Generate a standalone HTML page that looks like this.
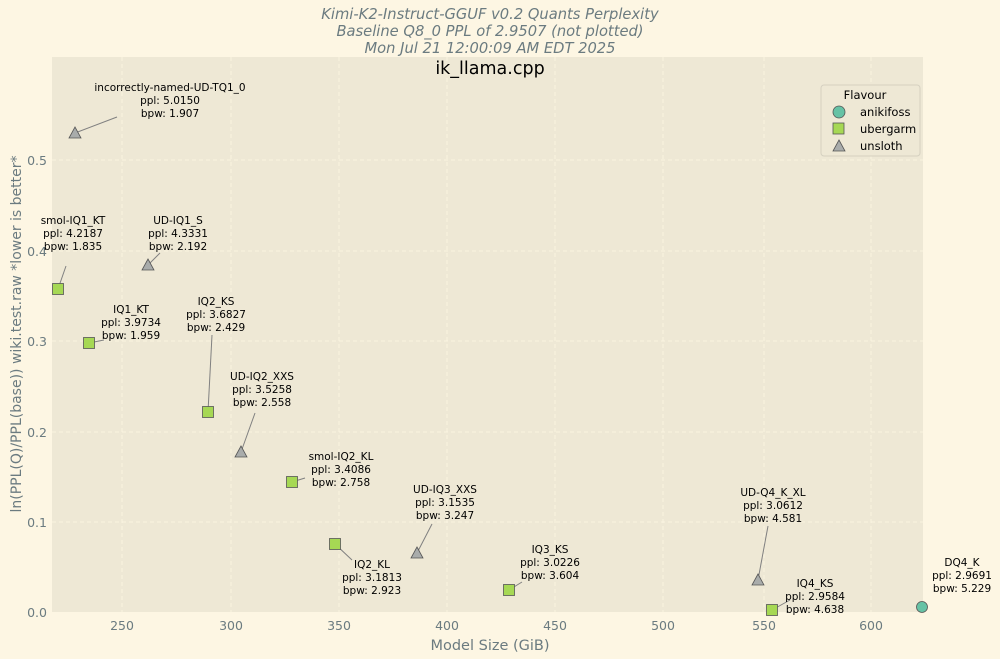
<!DOCTYPE html>
<html><head><meta charset="utf-8"><style>
body{margin:0;background:#fdf6e3;}
svg{display:block;font-family:"DejaVu Sans","Liberation Sans",sans-serif;}
.a{font-size:10.5px;fill:#000;text-anchor:middle}
.t{fill:#6b7b80;}
</style></head><body>
<svg width="1000" height="659" viewBox="0 0 1000 659">
<rect width="1000" height="659" fill="#fdf6e3"/>
<rect x="52" y="57" width="871" height="555" fill="#eee8d5"/>
<g stroke="#fdf6e3" stroke-dasharray="4,3" stroke-width="0.8">
<line x1="122" y1="57" x2="122" y2="612"/><line x1="231" y1="57" x2="231" y2="612"/><line x1="339" y1="57" x2="339" y2="612"/><line x1="447" y1="57" x2="447" y2="612"/><line x1="555" y1="57" x2="555" y2="612"/><line x1="663" y1="57" x2="663" y2="612"/><line x1="764" y1="57" x2="764" y2="612"/><line x1="871" y1="57" x2="871" y2="612"/>
<line x1="52" y1="522" x2="923" y2="522"/><line x1="52" y1="432" x2="923" y2="432"/><line x1="52" y1="341" x2="923" y2="341"/><line x1="52" y1="251" x2="923" y2="251"/><line x1="52" y1="160" x2="923" y2="160"/>
</g>
<g class="t" text-anchor="middle" style="font-size:12.5px">
<text x="122" y="630">250</text><text x="231" y="630">300</text><text x="339" y="630">350</text><text x="447" y="630">400</text><text x="555" y="630">450</text><text x="663" y="630">500</text><text x="764" y="630">550</text><text x="871" y="630">600</text>
</g>
<g class="t" text-anchor="end" style="font-size:12.5px">
<text x="47" y="617">0.0</text><text x="47" y="527">0.1</text><text x="47" y="437">0.2</text><text x="47" y="346">0.3</text><text x="47" y="256">0.4</text><text x="47" y="165">0.5</text>
</g>
<text x="490" y="650" class="t" style="font-size:14.5px" text-anchor="middle">Model Size (GiB)</text>
<text transform="translate(21,334) rotate(-90)" class="t" style="font-size:14px" text-anchor="middle">ln(PPL(Q)/PPL(base)) wiki.test.raw *lower is better*</text>
<g fill="#6b7b80" style="font-size:14.7px" font-style="italic" text-anchor="middle">
<text x="490" y="19">Kimi-K2-Instruct-GGUF v0.2 Quants Perplexity</text>
<text x="490" y="36">Baseline Q8_0 PPL of 2.9507 (not plotted)</text>
<text x="490" y="53">Mon Jul 21 12:00:09 AM EDT 2025</text>
</g>
<text x="490" y="74" style="font-size:17.5px" text-anchor="middle" fill="#000">ik_llama.cpp</text>
<g stroke="#808080" stroke-width="1">
<line x1="75" y1="133" x2="117" y2="117"/><line x1="148" y1="265" x2="160" y2="253"/><line x1="58" y1="289" x2="66" y2="266"/><line x1="89" y1="343" x2="104" y2="340"/><line x1="208" y1="412" x2="212" y2="335"/><line x1="241" y1="452" x2="255" y2="413"/><line x1="292" y1="482" x2="305" y2="478"/><line x1="335" y1="544" x2="352" y2="560"/><line x1="417" y1="553" x2="432" y2="524"/><line x1="509" y1="590" x2="522" y2="582"/><line x1="758" y1="580" x2="768" y2="526"/><line x1="772" y1="610" x2="790" y2="600"/>
</g>
<g class="a">
<text x="170" y="91">incorrectly-named-UD-TQ1_0</text><text x="170" y="104">ppl: 5.0150</text><text x="170" y="117">bpw: 1.907</text>
<text x="178" y="224">UD-IQ1_S</text><text x="178" y="237">ppl: 4.3331</text><text x="178" y="250">bpw: 2.192</text>
<text x="73" y="224">smol-IQ1_KT</text><text x="73" y="237">ppl: 4.2187</text><text x="73" y="250">bpw: 1.835</text>
<text x="131" y="313">IQ1_KT</text><text x="131" y="326">ppl: 3.9734</text><text x="131" y="339">bpw: 1.959</text>
<text x="216" y="305">IQ2_KS</text><text x="216" y="318">ppl: 3.6827</text><text x="216" y="331">bpw: 2.429</text>
<text x="262" y="380">UD-IQ2_XXS</text><text x="262" y="393">ppl: 3.5258</text><text x="262" y="406">bpw: 2.558</text>
<text x="341" y="460">smol-IQ2_KL</text><text x="341" y="473">ppl: 3.4086</text><text x="341" y="486">bpw: 2.758</text>
<text x="372" y="568">IQ2_KL</text><text x="372" y="581">ppl: 3.1813</text><text x="372" y="594">bpw: 2.923</text>
<text x="445" y="493">UD-IQ3_XXS</text><text x="445" y="506">ppl: 3.1535</text><text x="445" y="519">bpw: 3.247</text>
<text x="550" y="553">IQ3_KS</text><text x="550" y="566">ppl: 3.0226</text><text x="550" y="579">bpw: 3.604</text>
<text x="773" y="496">UD-Q4_K_XL</text><text x="773" y="509">ppl: 3.0612</text><text x="773" y="522">bpw: 4.581</text>
<text x="815" y="587">IQ4_KS</text><text x="815" y="600">ppl: 2.9584</text><text x="815" y="613">bpw: 4.638</text>
<text x="962" y="566">DQ4_K</text><text x="962" y="579">ppl: 2.9691</text><text x="962" y="592">bpw: 5.229</text>
</g>
<g fill="#a9acab" stroke="#555" stroke-width="0.8">
<polygon points="75,127 81,138 69,138"/><polygon points="148,259 154,270 142,270"/><polygon points="241,446 247,457 235,457"/><polygon points="417,547 423,558 411,558"/><polygon points="758,574 764,585 752,585"/>
</g>
<g fill="#a6d854" stroke="#555" stroke-width="0.8">
<rect x="52.5" y="283.5" width="11" height="11"/><rect x="83.5" y="337.5" width="11" height="11"/><rect x="202.5" y="406.5" width="11" height="11"/><rect x="286.5" y="476.5" width="11" height="11"/><rect x="329.5" y="538.5" width="11" height="11"/><rect x="503.5" y="584.5" width="11" height="11"/><rect x="766.5" y="604.5" width="11" height="11"/>
</g>
<circle cx="922" cy="607" r="5.5" fill="#66c2a5" stroke="#555" stroke-width="0.8"/>
<rect x="821" y="85" width="99" height="71" rx="3" fill="#eee8d5" stroke="#d5d0c0"/>
<text x="865" y="99" style="font-size:11.5px" text-anchor="middle">Flavour</text>
<circle cx="839" cy="112" r="6" fill="#66c2a5" stroke="#555" stroke-width="0.8"/>
<rect x="833" y="123" width="11" height="11" fill="#a6d854" stroke="#555" stroke-width="0.8"/>
<polygon points="839,140 845,151 833,151" fill="#a9acab" stroke="#555" stroke-width="0.8"/>
<g style="font-size:11.5px"><text x="860" y="116">anikifoss</text><text x="860" y="133">ubergarm</text><text x="860" y="150">unsloth</text></g>
</svg>
</body></html>
